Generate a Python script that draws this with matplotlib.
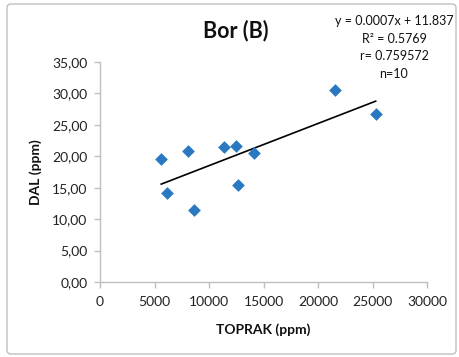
import numpy as np
import matplotlib
matplotlib.use("Agg")
import matplotlib.pyplot as plt
from matplotlib.patches import FancyBboxPatch

# soil (x) vs DAL (y)
toprak = [5620, 6150, 8070, 8650, 11380, 12450, 12630, 14130, 21560, 25290]
dal = [19.6, 14.2, 20.9, 11.4, 21.4, 21.7, 15.4, 20.6, 30.5, 26.8]

x_ticks = [0, 5000, 10000, 15000, 20000, 25000, 30000]
y_ticks = [0, 5, 10, 15, 20, 25, 30, 35]
stats_lines = ["y = 0.0007x + 11.837", "R\u00b2 = 0.5769", "r= 0.759572", "n=10"]

plt.rcParams['font.family'] = ['Lato', 'DejaVu Sans']

W, H = 459, 357
fig = plt.figure(figsize=(W / 100, H / 100), dpi=100)

# light frame around the chart
frame = FancyBboxPatch((7 / W, 3 / H), 449 / W, 350 / H,
                       boxstyle="round,pad=0,rounding_size=0.01",
                       transform=fig.transFigure, facecolor="none",
                       edgecolor="#bfbfbf", linewidth=1.0, zorder=-5)
fig.patches.append(frame)

ax = fig.add_axes([100 / W, 1 - 282 / H, 327 / W, 220 / H])
ax.set_facecolor("none")

ax.scatter(toprak, dal, marker="D", s=42, color="#2a78c2", zorder=3, linewidths=0)

# linear trend line
slope, intercept = np.polyfit(toprak, dal, 1)
xs = np.array([min(toprak), max(toprak)])
ax.plot(xs, slope * xs + intercept, color="black", linewidth=1.2, zorder=2)

ax.set_xlim(0, 30000)
ax.set_ylim(0, 35)
ax.set_xticks(x_ticks)
ax.set_yticks(y_ticks)
ax.set_xticklabels([str(t) for t in x_ticks])
ax.set_yticklabels([("%.2f" % t).replace(".", ",") for t in y_ticks])

for side in ["top", "right"]:
    ax.spines[side].set_visible(False)
for side in ["left", "bottom"]:
    ax.spines[side].set_color("#bfbfbf")
    ax.spines[side].set_linewidth(1.0)
ax.tick_params(axis="both", colors="#bfbfbf", length=4, width=1.0,
               labelcolor="#222222", labelsize=10)
ax.tick_params(axis="x", pad=6)
ax.tick_params(axis="y", pad=5)

fig.text(236 / W, 1 - 31 / H, "Bor (B)", ha="center", va="center",
         fontsize=15.5, fontweight="bold", color="#111111")
fig.text(263 / W, 1 - 330 / H, "TOPRAK (ppm)", ha="center", va="center",
         fontsize=10, fontweight="bold", color="#111111")
fig.text(36 / W, 1 - 172 / H, "DAL (ppm)", ha="center", va="center",
         rotation=90, fontsize=10, fontweight="bold", color="#111111")

for i, line in enumerate(stats_lines):
    fig.text(394 / W, 1 - (21 + 17.7 * i) / H, line, ha="center", va="center",
             fontsize=9, color="#111111")

fig.savefig("out.png", dpi=100)
